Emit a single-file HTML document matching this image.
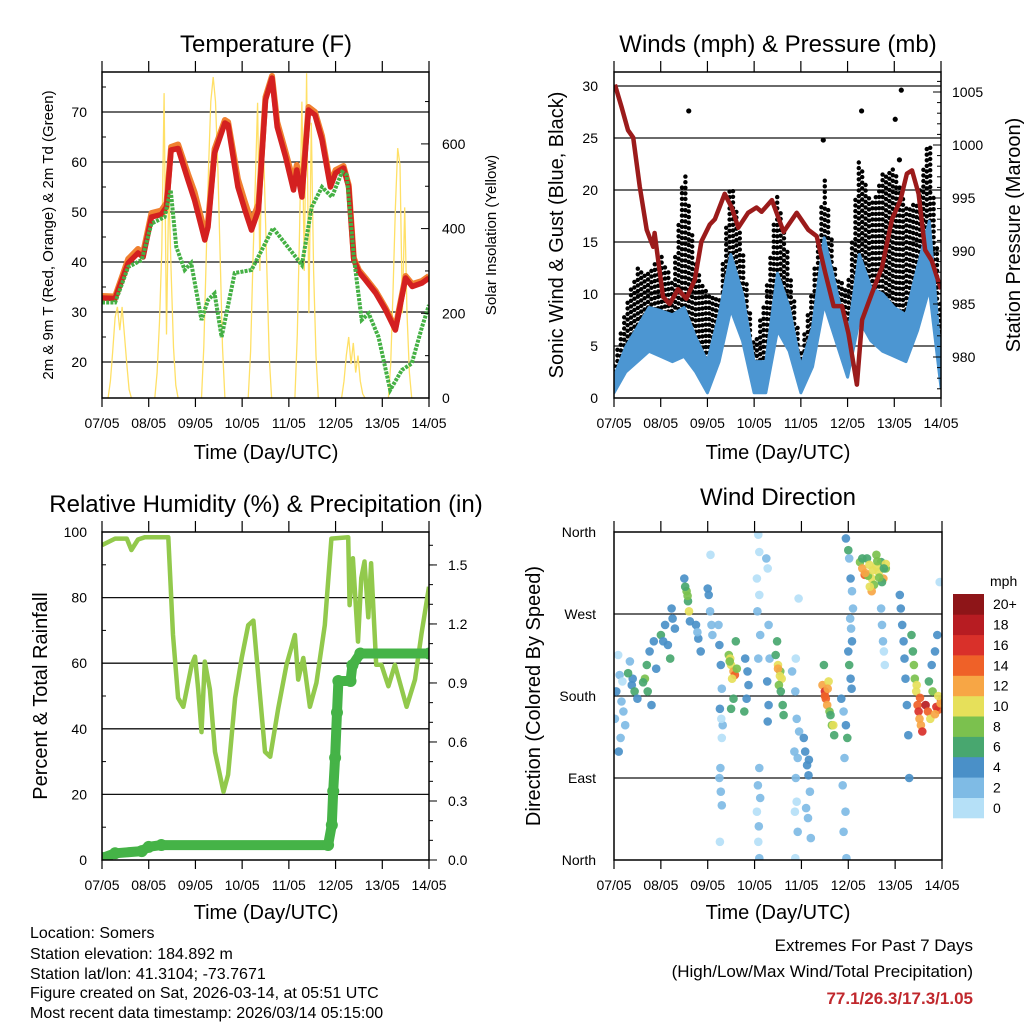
<!DOCTYPE html>
<html><head><meta charset="utf-8"><style>
html,body{margin:0;padding:0;background:#fff;}
svg{display:block;font-family:"Liberation Sans",Arial,sans-serif;}
</style></head><body>
<svg id="root" width="1024" height="1024" viewBox="0 0 1024 1024" xmlns="http://www.w3.org/2000/svg">
<defs>
<clipPath id="c1"><rect x="102" y="72" width="327" height="326"/></clipPath>
<clipPath id="c2"><rect x="614" y="72" width="327" height="326"/></clipPath>
<clipPath id="c3"><rect x="102" y="532" width="327" height="328"/></clipPath>
<clipPath id="c4"><rect x="614" y="532" width="328" height="328"/></clipPath>
</defs>
<text x="266" y="52" font-size="24" text-anchor="middle">Temperature (F)</text>
<text x="778" y="52" font-size="24" text-anchor="middle">Winds (mph) &amp; Pressure (mb)</text>
<text x="266" y="512" font-size="24" text-anchor="middle">Relative Humidity (%) &amp; Precipitation (in)</text>
<text x="778" y="505" font-size="24" text-anchor="middle">Wind Direction</text>
<text x="266" y="459" font-size="20" text-anchor="middle">Time (Day/UTC)</text>
<text x="778" y="459" font-size="20" text-anchor="middle">Time (Day/UTC)</text>
<text x="266" y="919" font-size="20" text-anchor="middle">Time (Day/UTC)</text>
<text x="778" y="919" font-size="20" text-anchor="middle">Time (Day/UTC)</text>
<text transform="translate(53,235) rotate(-90)" font-size="15" text-anchor="middle">2m &amp; 9m T (Red, Orange) &amp; 2m Td (Green)</text>
<text transform="translate(496,235) rotate(-90)" font-size="15" text-anchor="middle">Solar Insolation (Yellow)</text>
<text transform="translate(563,235) rotate(-90)" font-size="20" text-anchor="middle">Sonic Wind &amp; Gust (Blue, Black)</text>
<text transform="translate(1020,235) rotate(-90)" font-size="20" text-anchor="middle">Station Pressure (Maroon)</text>
<text transform="translate(47,696) rotate(-90)" font-size="20" text-anchor="middle">Percent &amp; Total Rainfall</text>
<text transform="translate(540,696) rotate(-90)" font-size="20" text-anchor="middle">Direction (Colored By Speed)</text>
<g font-size="16">
<text x="30" y="938">Location: Somers</text>
<text x="30" y="959">Station elevation: 184.892 m</text>
<text x="30" y="979">Station lat/lon: 41.3104; -73.7671</text>
<text x="30" y="998">Figure created on Sat, 2026-03-14, at 05:51 UTC</text>
<text x="30" y="1018">Most recent data timestamp: 2026/03/14 05:15:00</text>
</g>
<g font-size="17" text-anchor="end">
<text x="973" y="951">Extremes For Past 7 Days</text>
<text x="973" y="977">(High/Low/Max Wind/Total Precipitation)</text>
<text x="973" y="1004" fill="#c0282d" font-weight="bold">77.1/26.3/17.3/1.05</text>
</g>
</svg>
<script>
// ---------- data ----------
const dayLabels = ["07/05","08/05","09/05","10/05","11/05","12/05","13/05","14/05"];
const tempTicks = [20,30,40,50,60,70];
const solarTicks = [0,200,400,600];
const windTicks = [0,5,10,15,20,25,30];
const presTicks = [980,985,990,995,1000,1005];
const rhTicks = [0,20,40,60,80,100];
const rainTicks = ["0.0","0.3","0.6","0.9","1.2","1.5"];
const dirTicks = ["North","East","South","West","North"];

const tDay = [0,0.28,0.56,0.77,0.88,1.06,1.27,1.38,1.48,1.63,1.84,1.98,2.2,2.27,2.41,2.63,2.7,2.91,3.06,3.2,3.35,3.5,3.64,3.75,3.93,4.1,4.17,4.28,4.42,4.56,4.71,4.89,5,5.17,5.28,5.39,5.5,5.64,5.86,6.07,6.28,6.5,6.64,6.85,7];
const tempRed = [32.8,32.7,39.8,41.8,41,49,49.5,51,62.4,62.7,56.4,52.4,44.4,47,61.8,67.8,67.4,55,50.4,46.4,50.4,72.4,76.8,67,61,54.4,58.4,53,70.4,69.4,64.4,55,57.8,58.8,55,40.4,38,36.4,33.8,30.4,26.4,36.8,35.1,35.8,36.8];
const tempOrange = [33.2,33.1,40.6,42.6,41.8,49.8,50.3,51.8,63,63.5,57.6,54,46,48,62.6,68.4,68,56.6,52,48,51.6,73,77.2,68,62,56,59.4,54,71,70,65.2,55.6,58.4,59.2,55.4,40.8,38.4,36.8,34.2,30.8,26.8,37.2,35.6,36.2,37.2];
const tdDay = [0,0.28,0.56,0.85,1.06,1.34,1.47,1.59,1.77,1.91,2.13,2.27,2.41,2.56,2.84,3.2,3.42,3.66,3.98,4.28,4.49,4.71,4.92,5.14,5.24,5.39,5.56,5.71,5.92,6.17,6.42,6.63,6.85,7];
const dewGreen = [31.9,31.9,39,40.4,47.7,49,54.4,43,38.4,39.8,28.4,32.4,33.7,25,37.8,38.4,42.4,46.8,43,39.4,51,55,53,58,57.4,41,28.4,29.7,25,14.4,18.4,19.7,27,31.4];
const solarOffsets = [0.13,0.18,0.23,0.28,0.33,0.38,0.43,0.48,0.53,0.58,0.63];
const solarDays = [
 [0,40,110,190,215,160,215,150,80,20,0],
 [0,60,180,350,720,150,500,300,120,30,0],
 [0,120,330,540,700,758,700,540,330,120,0],
 [0,110,320,500,697,300,680,500,300,100,0],
 [0,150,400,700,300,767,200,650,300,100,0],
 [0,40,100,144,80,130,60,100,40,10,0],
 [0,80,250,450,590,550,200,450,200,60,0]
];

const windDay = [0,0.25,0.5,0.75,1,1.25,1.5,1.75,2,2.25,2.5,2.75,3,3.25,3.5,3.75,4,4.25,4.5,4.75,5,5.25,5.5,5.75,6,6.25,6.5,6.75,7];
const windHigh = [2,4.9,6.8,8.7,8.4,8,8.7,5.8,3.5,8,13.8,10,3.5,3.5,12,8.7,3,6.8,15.4,10.6,5.8,13.8,10.6,10,8.7,8,12.6,17,3.5];
const windLow = [0.5,2.5,3.5,4.5,4,3.5,4,2.5,0.5,3.5,8.5,5.5,0.5,0.5,6.5,4.5,0.5,3,9,5.5,2,7.5,5.5,4.5,4,3.5,6.5,10.5,1];
const gustHigh = [3.5,8.7,12.5,12,13.8,11.2,22.4,13,10,9.4,21.4,14.5,4.8,10,20,13,4.5,10.6,21.4,12,10.6,23.4,18.4,21.7,22,18.4,19,25.4,8.7];
const gustOutDay = [1.6,4.48,5.3,6.02,6.15,6.11];
const gustOutVal = [27.6,24.8,27.6,26.8,29.6,22.9];
const presDay = [0.02,0.16,0.3,0.41,0.55,0.7,0.84,0.87,1.05,1.19,1.37,1.55,1.73,1.87,2.05,2.16,2.37,2.52,2.66,2.87,3.05,3.16,3.38,3.63,3.91,4.16,4.34,4.52,4.7,4.88,5.02,5.2,5.31,5.52,5.74,5.95,6.13,6.27,6.38,6.52,6.66,6.8,6.91,7];
const presVal = [1005.7,1003.6,1001.4,1000.7,996.1,992,990.4,991.7,985.7,985,986.4,985.5,987.3,990.9,992.5,993,995.4,994.1,992.2,993.6,994.1,993.7,994.8,991.8,993.6,992,991.4,988,984.8,984.8,982.2,977.4,983.5,986,988.5,993,994.8,997.3,997.6,995.4,990.1,989.1,987.6,986.4];

const rhDay = [0,0.28,0.53,0.63,0.77,0.92,1.42,1.52,1.63,1.74,1.92,1.99,2.06,2.13,2.2,2.31,2.42,2.6,2.7,2.85,2.99,3.13,3.24,3.49,3.6,3.77,3.95,4.13,4.2,4.31,4.45,4.59,4.77,4.91,5.27,5.3,5.37,5.48,5.55,5.62,5.7,5.76,5.87,5.98,6.13,6.27,6.52,6.7,6.84,7];
const rhVal = [96,98,98,94.5,97.7,98.4,98.4,68.6,49.4,46.7,59.5,62,52,39,60.5,52,33,20.8,26,49.4,61.6,71.6,73,33,31.5,46,59.5,68.6,55,61.6,46.7,54,71.6,98,98.4,77.7,92,66.6,86,91,74,90.5,59.5,59.5,53,59.5,46.7,55,69,83.3];
const rainDay = [0,0.28,0.85,1,1.27,4.84,4.92,4.95,4.99,5.03,5.06,5.32,5.36,5.53,7];
const rainVal = [0.01,0.034,0.045,0.067,0.076,0.076,0.178,0.35,0.52,0.75,0.91,0.91,0.99,1.05,1.05];

const dirDay = [0.09,0.12,0.16,0.2,0.24,0.14,0.1,0.05,0.18,0.02,
 0.38,0.44,0.5,0.4,0.34,0.3,
 0.66,0.72,0.8,0.7,0.76,0.85,0.62,0.9,
 1.0,1.09,1.15,1.2,1.23,1.3,1.05,1.25,
 1.5,1.55,1.58,1.6,1.62,1.52,1.57,
 1.75,1.8,1.85,1.78,
 2.0,2.02,2.05,2.08,2.1,2.06,
 2.23,2.25,2.28,2.3,2.26,2.32,2.29,2.3,2.27,2.25,2.28,2.3,2.26,
 2.45,2.5,2.55,2.58,2.52,2.48,2.6,2.55,2.5,2.62,2.47,
 2.8,2.85,2.87,2.83,2.78,
 3.08,3.1,3.05,3.1,3.06,3.12,3.08,3.1,3.07,3.12,3.05,3.09,3.08,3.1,
 3.25,3.28,3.3,3.32,3.27,3.3,3.28,
 3.45,3.5,3.55,3.58,3.52,3.48,3.56,3.6,3.62,3.5,3.54,
 3.8,3.87,3.9,3.95,3.85,3.92,3.88,3.9,3.86,3.94,3.88,3.92,3.87,
 4.05,4.08,4.12,4.15,4.18,4.1,4.14,4.2,4.16,
 4.45,4.5,4.52,4.55,4.6,4.65,4.7,4.48,4.58,4.62,4.68,4.5,4.56,
 4.85,4.9,4.95,4.98,4.92,4.88,4.94,4.9,4.96,
 4.95,5.0,5.02,5.05,5.08,5.1,5.04,5.06,5.08,5.0,5.02,5.05,5.07,
 5.25,5.3,5.35,5.4,5.45,5.5,5.55,5.6,5.65,5.7,5.75,5.8,5.3,5.5,5.6,5.42,5.52,5.62,5.72,5.8,5.36,5.46,5.66,5.76,
 5.7,5.72,5.74,5.76,5.78,
 6.1,6.12,6.15,6.18,6.2,6.22,6.25,6.28,6.3,
 6.35,6.38,6.4,6.42,6.45,6.48,6.5,6.52,6.55,6.58,6.46,6.53,
 6.65,6.7,6.75,6.8,6.72,6.78,6.85,6.9,6.95,6.98,6.92,6.88,6.85,6.97,6.92];
const dirDeg = [225,203,174,163,148,134,119,185,196,155,
 192,185,177,199,218,205,
 199,185,170,214,229,240,195,210,
 247,258,236,221,276,254,240,265,
 309,295,284,273,262,300,290,
 258,243,229,250,
 298,291,273,258,247,335,
 258,236,214,188,166,148,155,134,101,90,75,60,20,
 225,214,207,203,199,221,240,177,166,210,218,
 221,207,192,177,163,
 357,338,309,291,273,247,221,101,82,68,53,37,20,2,
 331,320,258,221,196,170,152,
 225,214,207,199,192,240,185,170,159,210,202,
 207,185,155,141,119,112,90,64,53,287,221,31,2,
 134,119,104,93,75,57,46,24,110,
 192,185,177,170,163,148,137,214,196,159,148,180,188,
 177,163,148,134,112,82,53,31,2,
 353,340,331,309,295,276,265,254,240,229,214,199,188,
 327,320,313,331,324,309,302,335,316,327,309,320,331,295,322,312,318,328,305,325,315,300,310,320,
 276,258,240,229,214,
 291,276,258,240,221,199,170,137,90,
 247,229,214,199,185,170,163,155,148,141,192,178,
 170,163,155,185,196,214,229,247,305,175,165,168,160,172,180];
const dirSpd = [1,2,2,2,3,3,4,4,1,2,
 5,7,4,4,3,6,
 8,6,4,6,4,4,7,5,
 6,5,4,7,4,4,5,5,
 5,9,7,10,5,6,8,
 4,4,4,3,
 4,4,2,2,2,1,
 2,4,4,3,4,2,1,1,3,2,3,3,1,
 8,11,12,14,10,10,6,6,6,9,8,
 4,4,5,4,6,
 1,1,1,1,2,2,2,2,2,2,1,3,1,2,
 2,1,2,3,4,4,4,
 6,11,9,10,8,6,7,6,6,12,10,
 3,2,2,2,2,3,2,1,1,1,1,3,1,
 4,4,4,4,3,2,3,3,4,
 12,16,14,13,9,8,6,6,11,7,10,15,12,
 4,3,4,6,3,2,3,2,3,
 4,6,3,4,3,3,2,2,4,4,6,4,4,
 9,12,14,7,10,10,9,8,10,6,12,9,6,12,11,9,10,8,7,10,13,11,9,6,
 3,2,2,1,1,
 4,4,4,4,4,4,4,4,4,
 6,6,8,9,10,14,16,13,12,17,11,15,
 18,15,11,9,6,4,4,4,1,17,14,16,13,12,10];

const speedColors = ["#b5e0f7","#7fbbe5","#4a90c8","#48a76f","#7bc14e","#e6e05a","#f7a645","#ef6128","#d9302a","#b71c22","#8e1518"];
const speedLabels = ["0","2","4","6","8","10","12","14","16","18","20+"];

// ---------- helpers ----------
const NS = "http://www.w3.org/2000/svg";
const root = document.getElementById("root");
function el(tag, attrs, parent){
  const e = document.createElementNS(NS, tag);
  for (const k in attrs) e.setAttribute(k, attrs[k]);
  (parent || root).appendChild(e);
  return e;
}
function txt(x,y,s,size,anchor,parent){
  const t = el("text",{x:x,y:y,"font-size":size,"text-anchor":anchor},parent);
  t.textContent = s;
  return t;
}
const dayW = 327/7;
const xA = d => 102 + d*dayW;
const xB = d => 614 + d*dayW;
const yT = v => 362 - (v-20)*5;
const ySol = w => 398 - w*0.4235;
const yW = v => 398 - v*10.4;
const yP = p => 92 - (p-1005)*10.6;
const yRH = v => 860 - v*3.28;
const yRain = v => 860 - v*196.7;
const yDir = deg => 860 - deg*328/360;
function pts(xs, ys, fx, fy){ return xs.map((d,i)=>fx(d).toFixed(1)+","+fy(ys[i]).toFixed(1)).join(" "); }
function interp(xs, ys, d){
  if (d<=xs[0]) return ys[0];
  for (let i=1;i<xs.length;i++){ if (d<=xs[i]){ const f=(d-xs[i-1])/(xs[i]-xs[i-1]); return ys[i-1]+f*(ys[i]-ys[i-1]); } }
  return ys[ys.length-1];
}

function frame(x0,y0,w,h,name,xfn,bottomLabels){
  const g = el("g",{});
  
  
  dayLabels.forEach((lab,i)=>{
    const x = xfn(i);
    el("line",{x1:x,y1:y0-11,x2:x,y2:y0,stroke:"#000","stroke-width":1.2},g);
    el("line",{x1:x,y1:y0+h,x2:x,y2:y0+h+9,stroke:"#000","stroke-width":1.2},g);
    if (bottomLabels){ const t = txt(x,y0+h+30,lab,14,"middle",g);
      
       }
  });
  el("rect",{x:x0,y:y0,width:w,height:h,fill:"none",stroke:"#000","stroke-width":1.5},g);
  return g;
}
function hgrid(ys, x0, x1, parent){
  ys.forEach(y=>{ el("line",{x1:x0,y1:y,x2:x1,y2:y,stroke:"#111","stroke-width":1.3},parent); });
}

// ================= Panel 1: Temperature =================
{
  const g = el("g",{});
  
  
  hgrid(tempTicks.map(yT), 102, 429, g);
  const c = el("g",{"clip-path":"url(#c1)"},g);
  solarDays.forEach((arr,k)=>{
    const p = el("polyline",{points:pts(solarOffsets.map(o=>k+o),arr,xA,ySol),fill:"none",stroke:"#ffe066","stroke-width":1.3},c);
    
    
  });
  const o = el("polyline",{points:pts(tDay,tempOrange,xA,yT),fill:"none",stroke:"#f08030","stroke-width":6,"stroke-linejoin":"round"},c);
  
  
  const r = el("polyline",{points:pts(tDay,tempRed,xA,yT),fill:"none",stroke:"#d42020","stroke-width":5.5,"stroke-linejoin":"round"},c);
  
  
  const gr = el("polyline",{points:pts(tdDay,dewGreen,xA,yT),fill:"none",stroke:"#44b044","stroke-width":4,"stroke-dasharray":"3 1.2"},c);
  
  
  frame(102,72,327,326,"temperature",xA,true);
  tempTicks.forEach(v=>{ const t=txt(87,yT(v)+5,String(v),14,"end",g);
    
     });
  [25,35,45,55,65,75].forEach(v=>el("line",{x1:102,y1:yT(v),x2:106,y2:yT(v),stroke:"#000"},g));
  solarTicks.forEach(v=>{ el("line",{x1:421,y1:ySol(v),x2:429,y2:ySol(v),stroke:"#000"},g);
    const t=txt(442,ySol(v)+5,String(v),14,"start",g);
    
     });
  [100,300,500,700].forEach(v=>el("line",{x1:425,y1:ySol(v),x2:429,y2:ySol(v),stroke:"#000"},g));
}

// ================= Panel 2: Winds =================
{
  const g = el("g",{});
  
  
  hgrid(windTicks.slice(1).map(yW), 614, 941, g);
  const c = el("g",{"clip-path":"url(#c2)"},g);
  const dots = el("g",{fill:"#000"},c);
  
  
  let col = 0;
  for (let x=614; x<=941; x+=3.4){
    const d = (x-614)/dayW;
    const lo = yW(interp(windDay,windHigh,d)), hi = yW(interp(windDay,gustHigh,d));
    const off = (col%3)*1.8;
    for (let y=lo-off; y>=hi; y-=5.6){ el("circle",{cx:x.toFixed(1),cy:y.toFixed(1),r:2.2},dots); }
    col++;
  }
  gustOutDay.forEach((d,i)=>{ const cc=el("circle",{cx:xB(d),cy:yW(gustOutVal[i]),r:2.6,fill:"#000"},c);
    
     });
  const band = pts(windDay,windHigh,xB,yW)+" "+pts(windDay.slice().reverse(),windLow.slice().reverse(),xB,yW);
  const b = el("polygon",{points:band,fill:"#4c96d2",stroke:"#4c96d2","stroke-width":3,"stroke-linejoin":"round"},c);
  
  
  const p = el("polyline",{points:pts(presDay,presVal,xB,yP),fill:"none",stroke:"#9b1b1b","stroke-width":4.5,"stroke-linejoin":"round"},c);
  
  
  frame(614,72,327,326,"winds",xB,true);
  windTicks.forEach(v=>{ const t=txt(598,yW(v)+5,String(v),14,"end",g);
    
     });
  presTicks.forEach(v=>{ el("line",{x1:933,y1:yP(v),x2:941,y2:yP(v),stroke:"#000"},g);
    const t=txt(952,yP(v)+5,String(v),14,"start",g);
    
     });
  for (let v=977; v<=1006; v++){ if (v%5) el("line",{x1:937,y1:yP(v),x2:941,y2:yP(v),stroke:"#000"},g); }
}

// ================= Panel 3: RH & Precip =================
{
  const g = el("g",{});
  
  
  hgrid([20,40,60,80].map(yRH), 102, 429, g);
  const c = el("g",{"clip-path":"url(#c3)"},g);
  const rh = el("polyline",{points:pts(rhDay,rhVal,xA,yRH),fill:"none",stroke:"#92c94c","stroke-width":4.5,"stroke-linejoin":"round"},c);
  
  
  const rn = el("polyline",{points:pts(rainDay,rainVal,xA,yRain),fill:"none",stroke:"#45b347","stroke-width":10,"stroke-linejoin":"round","stroke-linecap":"round"},c);
  
  
  rainDay.forEach((d,i)=>{ const cc=el("circle",{cx:xA(d),cy:yRain(rainVal[i]),r:6,fill:"#45b347"},c);
    
     });
  frame(102,532,327,328,"humidity",xA,true);
  rhTicks.forEach(v=>{ const t=txt(87,yRH(v)+5,String(v),14,"end",g);
    
     });
  [10,30,50,70,90].forEach(v=>el("line",{x1:102,y1:yRH(v),x2:106,y2:yRH(v),stroke:"#000"},g));
  rainTicks.forEach(s=>{ const v=parseFloat(s); el("line",{x1:429,y1:yRain(v),x2:437,y2:yRain(v),stroke:"#000"},g);
    const t=txt(448,yRain(v)+5,s,14,"start",g);
    
     });
  for (let v=0.1; v<1.7; v+=0.1){ el("line",{x1:429,y1:yRain(v),x2:433,y2:yRain(v),stroke:"#000"},g); }
}

// ================= Panel 4: Wind direction =================
{
  const g = el("g",{});
  
  
  hgrid([90,180,270].map(yDir), 614, 942, g);
  const c = el("g",{"clip-path":"url(#c4)"},g);
  dirDay.forEach((d,i)=>{
    const k = Math.min(10, Math.floor(dirSpd[i]/2));
    const cc = el("circle",{cx:(614+d*328/7).toFixed(1),cy:yDir(dirDeg[i]).toFixed(1),r:4.3,fill:speedColors[k],"fill-opacity":0.92},c);
    
    
  });
  frame(614,532,328,328,"wind-direction",d=>614+d*328/7,true);
  dirTicks.forEach((s,i)=>{ const t=txt(596,yDir(i*90)+5,s,14,"end",g);
    
     });
  const cb = el("g",{});
  
  
  const bh = 224/11;
  speedColors.forEach((col,i)=>{
    const y = 818 - (i+1)*bh;
    const r = el("rect",{x:953,y:y.toFixed(1),width:31,height:(bh+0.3).toFixed(1),fill:col},cb);
    
    
    const t = txt(993,y+bh/2+5,speedLabels[i],14,"start",cb);
    
    
  });
  const u = txt(990,586,"mph",14,"start",cb);
  
  
}
</script>
</body></html>
